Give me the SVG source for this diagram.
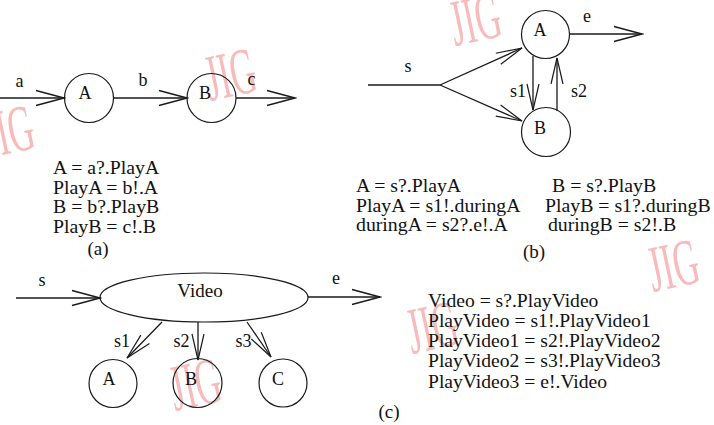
<svg xmlns="http://www.w3.org/2000/svg" width="714" height="425" viewBox="0 0 714 425">
  <style>
    .wm { font-family: "Liberation Serif", "Times New Roman", serif; font-size: 66px; fill: #f8baba; }
    .node { fill: none; stroke: #1a1a1a; stroke-width: 1.2; }
    .nl { font-family: "Liberation Serif", "Times New Roman", serif; font-size: 18px; fill: #111; text-anchor: middle; }
    .lbl { font-family: "Liberation Serif", "Times New Roman", serif; font-size: 18px; fill: #111; text-anchor: middle; }
    .eq { font-family: "Liberation Serif", "Times New Roman", serif; font-size: 18px; fill: #111; }
    .cap { font-family: "Liberation Serif", "Times New Roman", serif; font-size: 19px; fill: #111; text-anchor: middle; }
    .edge { fill: none; stroke: #1a1a1a; stroke-width: 1.3; }
    .open { marker-end: url(#arrow); }
    .thin { marker-end: url(#arrowNarrow); }
  </style>
  <defs>
    <marker id="arrow" viewBox="-30 -10 32 20" refX="0" refY="0" markerWidth="32" markerHeight="20" markerUnits="userSpaceOnUse" orient="auto">
      <path d="M-28,-7.5 L0,0 L-28,7.5" fill="none" stroke="#1a1a1a" stroke-width="1.3"/>
    </marker>
    <marker id="arrowNarrow" viewBox="-30 -10 32 20" refX="0" refY="0" markerWidth="32" markerHeight="20" markerUnits="userSpaceOnUse" orient="auto">
      <path d="M-26,-6 L0,0 L-26,6" fill="none" stroke="#1a1a1a" stroke-width="1.2"/>
    </marker>
  </defs>

  <rect x="0" y="0" width="714" height="425" fill="#fff"/>

  <!-- watermarks -->
  <g id="watermarks">
    <text class="wm" transform="translate(210,101) rotate(-12) scale(0.53,1)">JIG</text>
    <text class="wm" transform="translate(455,46) rotate(-12) scale(0.53,1)">JIG</text>
    <text class="wm" transform="translate(-12,158) rotate(-12) scale(0.53,1)">JIG</text>
    <text class="wm" transform="translate(653,292) rotate(-12) scale(0.53,1)">JIG</text>
    <text class="wm" transform="translate(412,354) rotate(-12) scale(0.53,1)">JIG</text>
    <text class="wm" transform="translate(175,411) rotate(-12) scale(0.53,1)">JIG</text>
  </g>

  <!-- connectors -->
  <g id="connectors">
    <!-- (a) -->
    <path class="edge open" d="M0,98 L64,98"/>
    <path class="edge open" d="M114,98 L187,98"/>
    <path class="edge open" d="M236,98 L295,98"/>
    <!-- (b) -->
    <path class="edge" d="M368,85 L440,85"/>
    <path class="edge thin" d="M440,85 L522,48"/>
    <path class="edge thin" d="M440,85 L522,121"/>
    <path class="edge open" d="M570,34 L642,34"/>
    <path class="edge thin" d="M533,56 L533,110"/>
    <path class="edge thin" d="M557,111 L557,58"/>
    <!-- (c) -->
    <path class="edge open" d="M16,298 L100,298"/>
    <path class="edge open" d="M308,297 L380,297"/>
    <path class="edge thin" d="M162,322 L127,358"/>
    <path class="edge thin" d="M198,322 L198,360"/>
    <path class="edge thin" d="M247,322 L271,357"/>
  </g>

  <!-- connector labels -->
  <g id="edge-labels">
    <text class="lbl" x="19.5" y="87">a</text>
    <text class="lbl" x="143" y="86">b</text>
    <text class="lbl" x="251.5" y="85">c</text>
    <text class="lbl" x="408" y="72">s</text>
    <text class="lbl" x="587" y="22">e</text>
    <text class="lbl" x="518" y="97">s1</text>
    <text class="lbl" x="579" y="97">s2</text>
    <text class="lbl" x="42" y="286">s</text>
    <text class="lbl" x="336" y="284">e</text>
    <text class="lbl" x="122" y="347">s1</text>
    <text class="lbl" x="181.5" y="347">s2</text>
    <text class="lbl" x="243.5" y="347">s3</text>
  </g>

  <!-- (a) nodes -->
  <g id="a-A">
    <circle class="node" cx="89" cy="98" r="24.5"/>
    <text class="nl" x="85" y="99">A</text>
  </g>
  <g id="a-B">
    <circle class="node" cx="211.5" cy="98" r="24.5"/>
    <text class="nl" x="205" y="99">B</text>
  </g>

  <!-- (b) nodes -->
  <g id="b-A">
    <circle class="node" cx="545.5" cy="34.5" r="24"/>
    <text class="nl" x="540" y="36">A</text>
  </g>
  <g id="b-B">
    <circle class="node" cx="546" cy="132" r="24.5"/>
    <text class="nl" x="540" y="134">B</text>
  </g>

  <!-- (c) nodes -->
  <g id="c-Video">
    <ellipse class="node" cx="204" cy="297.5" rx="104" ry="24.5"/>
    <text class="nl" x="200" y="297" style="font-size:19px">Video</text>
  </g>
  <g id="c-A">
    <circle class="node" cx="113" cy="383.5" r="24"/>
    <text class="nl" x="109" y="385">A</text>
  </g>
  <g id="c-B">
    <circle class="node" cx="197.5" cy="383" r="24.5"/>
    <text class="nl" x="191" y="385">B</text>
  </g>
  <g id="c-C">
    <circle class="node" cx="283" cy="383" r="24"/>
    <text class="nl" x="278" y="385">C</text>
  </g>

  <!-- process equations (set slightly wide) -->
  <g id="eq-a">
    <g transform="translate(53,0) scale(1.1,1)">
      <text class="eq" x="0" y="174">A = a?.PlayA</text>
      <text class="eq" x="0" y="194">PlayA = b!.A</text>
      <text class="eq" x="0" y="213">B = b?.PlayB</text>
      <text class="eq" x="0" y="233">PlayB = c!.B</text>
    </g>
    <text class="cap" x="98" y="255">(a)</text>
  </g>
  <g id="eq-b">
    <g transform="translate(356,0) scale(1.1,1)">
      <text class="eq" x="0" y="192">A = s?.PlayA</text>
      <text class="eq" x="0" y="212">PlayA = s1!.duringA</text>
      <text class="eq" x="0" y="231">duringA = s2?.e!.A</text>
    </g>
    <g transform="translate(545,0) scale(1.1,1)">
      <text class="eq" x="6.4" y="192">B = s?.PlayB</text>
      <text class="eq" x="0" y="212">PlayB = s1?.duringB</text>
      <text class="eq" x="2.7" y="231">duringB = s2!.B</text>
    </g>
    <text class="cap" x="534" y="258">(b)</text>
  </g>
  <g id="eq-c">
    <g transform="translate(428,0) scale(1.09,1)">
      <text class="eq" x="0" y="307">Video = s?.PlayVideo</text>
      <text class="eq" x="0" y="327">PlayVideo = s1!.PlayVideo1</text>
      <text class="eq" x="0" y="347">PlayVideo1 = s2!.PlayVideo2</text>
      <text class="eq" x="0" y="367">PlayVideo2 = s3!.PlayVideo3</text>
      <text class="eq" x="0" y="388">PlayVideo3 = e!.Video</text>
    </g>
    <text class="cap" x="389" y="418">(c)</text>
  </g>
</svg>
